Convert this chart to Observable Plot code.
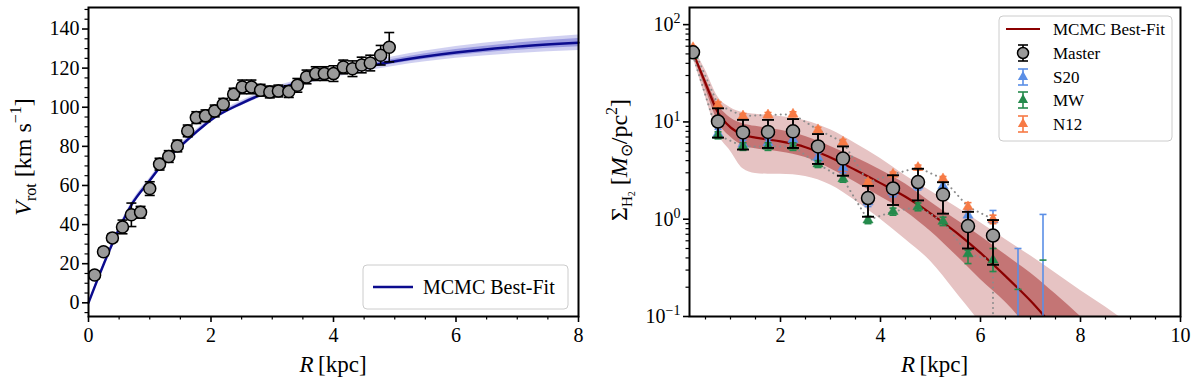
<!DOCTYPE html>
<html><head><meta charset="utf-8">
<script src="https://cdn.jsdelivr.net/npm/d3@7"></script>
<script src="https://cdn.jsdelivr.net/npm/@observablehq/plot@0.6"></script>
<style>
body{margin:0;background:#fff;}
#wrap{display:flex;width:1200px;height:388px;overflow:hidden;}
#wrap svg, #wrap svg text, #wrap svg tspan{font-family:"Liberation Serif",serif !important;}
</style></head><body><div id="wrap"></div>
<script>
// ---------- Left panel: rotation curve ----------
const rotR = [0.10,0.245,0.39,0.555,0.70,0.85,1.0,1.16,1.31,1.45,1.62,1.76,1.91,2.06,2.2,2.37,2.51,2.66,2.81,2.96,3.10,3.27,3.41,3.56,3.71,3.85,4.0,4.16,4.31,4.46,4.6,4.77,4.91];
const rotV = [14.2,26.1,33.2,38.8,45.0,46.3,58.4,70.9,74.8,80.2,87.9,94.7,95.6,98.1,101.5,106.7,110.4,110.4,108.7,107.8,108.3,108.0,111.2,115.5,117.2,117.2,117.2,120.6,119.7,121.6,122.6,126.6,130.7];
const rotErr = [2,2,2,3.5,6,3,3.5,3,3,3,3,3,3,3,3,3,3.5,3.5,3,3,3,3,3.5,3.5,3.5,3.5,4,3.5,4,4,4,5,7.5];

const fitR   = [0,0.2,0.4,0.7,1.0,1.25,1.5,1.75,2.0,2.5,3.0,3.5,4.0,4.5,5.0,6.0,7.0,8.0];
const fitV   = [0,16,31,50,62.5,72.5,80,87,93.5,102,108.5,113,117,120.5,123.5,128,131,133];
const fitLo1 = [0,15.7,30.5,49.4,61.9,71.9,79.4,86.4,92.9,101.4,107.9,112.3,116.2,119.5,122.3,126.5,129.2,130.9];
const fitHi1 = [0,16.3,31.5,50.6,63.1,73.1,80.6,87.6,94.1,102.6,109.1,113.7,117.8,121.5,124.7,129.5,132.8,135.1];
const fitLo2 = [0,15.2,29.8,48.7,61.2,71.2,78.7,85.7,92.2,100.7,107.1,111.4,115.1,118.3,121,125,127.5,129];
const fitHi2 = [0,16.8,32.2,51.3,63.8,73.8,81.3,88.3,94.8,103.3,109.9,114.6,118.9,122.7,126,131,134.5,137];

const xMajorL = [0,2,4,6,8];
const xMinorL = [0.5,1,1.5,2.5,3,3.5,4.5,5,5.5,6.5,7,7.5];
const yMajorL = [0,20,40,60,80,100,120,140];
const yMinorL = [-5,5,10,15,25,30,35,45,50,55,65,70,75,85,90,95,105,110,115,125,130,135,145,150];

// ---------- Right panel: H2 surface density ----------
const sigR      = [0.25,0.75,1.25,1.75,2.25,2.75,3.25,3.75,4.25,4.75,5.25,5.75,6.25];
const masterVal = [52,10.1,7.8,7.9,8.0,5.6,4.2,1.65,2.07,2.41,1.79,0.85,0.68];
const masterLo  = [50,6.9,5.2,5.4,5.4,3.7,2.8,1.06,1.4,1.56,1.14,0.5,0.34];
const masterHi  = [54,13.8,10.5,10.5,10.7,7.5,5.6,2.2,2.83,3.3,2.4,1.19,0.98];

const s20R   = [0.25,0.75,1.25,1.75,2.25,2.75,3.25,3.75,4.25,4.75,5.25,5.75,6.25,6.75,7.25];
const s20Val = [49,7.6,5.9,6.1,6.6,4.3,3.4,1.5,1.9,2.2,2.2,1.1,0.98,0.05,0.05];
const s20Lo  = [47,6.9,5.3,5.5,5.9,3.9,3.0,1.35,1.7,2.0,1.95,0.95,0.75,0.01,0.01];
const s20Hi  = [51,8.4,6.5,6.7,7.3,4.8,3.8,1.65,2.1,2.45,2.45,1.25,1.23,0.5,1.12];

const mwR   = [0.25,0.75,1.25,1.75,2.25,2.75,3.25,3.75,4.25,4.75,5.25,5.75,6.25,6.75,7.25];
const mwVal = [48,7.3,5.6,5.6,5.6,3.7,2.6,0.98,1.2,1.34,0.95,0.44,0.38,0,0];
const mwLo  = [46,6.7,5.1,5.1,5.1,3.4,2.4,0.9,1.1,1.22,0.86,0.35,0.29,0,0];
const mwHi  = [50,7.9,6.1,6.1,6.1,4.0,2.8,1.07,1.3,1.47,1.05,0.48,0.5,0.19,0.38];

const n12R   = [0.25,0.75,1.25,1.75,2.25,2.75,3.25,3.75,4.25,4.75,5.25,5.75,6.25];
const n12Val = [58,15,11.5,11.8,12,8.3,6.2,2.4,2.9,3.4,2.6,1.34,1.0];
const n12Lo  = [56,14,10.8,11.1,11.3,7.8,5.8,2.25,2.75,3.2,2.45,1.2,0.9];
const n12Hi  = [60,16,12.2,12.5,12.7,8.8,6.6,2.55,3.05,3.6,2.75,1.48,1.1];

const envLowR = [0.25,0.75,1.25,1.75,2.25,2.75,3.25,3.75,4.25,4.75,5.25,5.75,6.25,6.25];
const envLowV = [48,7.3,5.6,5.6,5.6,3.7,2.6,0.98,1.2,1.34,0.95,0.44,0.38,0.05];

const modR    = [0.25,0.5,0.75,1.0,1.25,1.5,1.75,2.0,2.5,3.0,3.5,4.0,4.5,5.0,5.5,6.0,6.5,7.0,7.5,8.0,8.5,9.0];
const modBest = [52,25,12.5,8.8,7.4,6.9,6.6,6.3,5.5,4.3,3.2,2.35,1.7,1.15,0.74,0.45,0.26,0.145,0.075,0.04,0.021,0.011];
const modLo1  = [49,22,10,7.0,5.7,5.3,5.1,4.9,4.3,3.3,2.4,1.7,1.2,0.75,0.43,0.24,0.14,0.072,0.035,0.017,0.008,0.004];
const modHi1  = [55,28,15,11,9.6,9.0,8.6,8.2,7.1,5.6,4.3,3.2,2.3,1.5,1.0,0.67,0.43,0.28,0.17,0.1,0.058,0.034];
const modLo2  = [46,18,7.5,5.0,3.3,2.95,2.9,2.9,2.75,2.25,1.55,1.0,0.62,0.37,0.18,0.085,0.035,0.015,0.006,0.003,0.0015,0.0008];
const modHi2  = [59,34,18,14,12.5,12,11.7,11.4,10.3,8.3,6.0,4.2,2.8,1.95,1.35,0.92,0.62,0.42,0.28,0.185,0.125,0.082];

const xMajorR = [2,4,6,8,10];
const xMinorR = [0.5,1,1.5,2.5,3,3.5,4.5,5,5.5,6.5,7,7.5,8.5,9,9.5];
const yMajorR = [0.1,1,10,100];
const yMajorRLabels = ["10|−1","10|0","10|1","10|2"];
const yMinorR = [0.2,0.3,0.4,0.5,0.6,0.7,0.8,0.9,2,3,4,5,6,7,8,9,20,30,40,50,60,70,80,90];

// ---------- helpers ----------
const FONT = "Liberation Serif";
const cap = (hw) => ({draw(ctx){ ctx.moveTo(-hw,0); ctx.lineTo(hw,0); }});
const zipErr = (R, V, L, H) => R.map((r,i)=>({r, v:V[i], lo:L[i], hi:H[i]}));
const wrap = document.getElementById("wrap");

// ---------- Left plot ----------
const rot = rotR.map((r,i)=>({r, v:rotV[i], e:rotErr[i]}));
const fit = fitR.map((r,i)=>({r, v:fitV[i], lo1:fitLo1[i], hi1:fitHi1[i], lo2:fitLo2[i], hi2:fitHi2[i]}));

const left = Plot.plot({
  width: 600, height: 388,
  marginLeft: 88, marginRight: 22, marginTop: 7, marginBottom: 72,
  style: {fontFamily: FONT, fontSize: "20px", background: "white", color: "black"},
  x: {domain: [0, 8]},
  y: {domain: [-7, 151]},
  marks: [
    Plot.areaY(fit, {x:"r", y1:"lo2", y2:"hi2", fill:"#a9a9e6", fillOpacity:0.55, curve:"monotone-x"}),
    Plot.areaY(fit, {x:"r", y1:"lo1", y2:"hi1", fill:"#6d6dd2", fillOpacity:0.55, curve:"monotone-x"}),
    Plot.line(fit, {x:"r", y:"v", stroke:"#0b0b8e", strokeWidth:2.4, curve:"monotone-x"}),
    Plot.ruleX(rot, {x:"r", y1:d=>d.v-d.e, y2:d=>d.v+d.e, stroke:"black", strokeWidth:1.6}),
    Plot.dot(rot, {x:"r", y:d=>d.v-d.e, symbol:cap(5), stroke:"black", strokeWidth:1.6}),
    Plot.dot(rot, {x:"r", y:d=>d.v+d.e, symbol:cap(5), stroke:"black", strokeWidth:1.6}),
    Plot.dot(rot, {x:"r", y:"v", r:6, fill:"#9a9a9a", stroke:"black", strokeWidth:1.5}),
    Plot.axisX({ticks:xMajorL, tickSize:6, tickPadding:5, fontSize:20, strokeWidth:1.6, label:null}),
    Plot.axisX({ticks:xMinorL, tickSize:3.5, tickFormat:()=>"", strokeWidth:1.2, label:null}),
    Plot.axisY({ticks:yMajorL, tickSize:6, tickPadding:3, fontSize:20, strokeWidth:1.6, label:null}),
    Plot.axisY({ticks:yMinorL, tickSize:3.5, tickFormat:()=>"", strokeWidth:1.2, label:null}),
    Plot.frame({stroke:"black", strokeWidth:2})
  ]
});
wrap.appendChild(left);

// ---------- Right plot ----------
const master = zipErr(sigR, masterVal, masterLo, masterHi);
const s20 = zipErr(s20R, s20Val, s20Lo, s20Hi);
const mw = zipErr(mwR, mwVal, mwLo, mwHi);
const n12 = zipErr(n12R, n12Val, n12Lo, n12Hi);
const mod = modR.map((r,i)=>({r, v:modBest[i], lo1:modLo1[i], hi1:modHi1[i], lo2:modLo2[i], hi2:modHi2[i]}));
const envUp = n12R.map((r,i)=>({r, v:n12Val[i]}));
const envLow = envLowR.map((r,i)=>({r, v:envLowV[i]}));

const C_S20 = "#5b8fe6", C_MW = "#258a4c", C_N12 = "#f77a45", C_FIT = "#8b0000";
const pos = d => d > 0;

function errMarks(data, color, hw, symbol, r, sw) {
  const bars = data.filter(d => pos(d.lo) && pos(d.hi));
  const los = data.filter(d => pos(d.lo));
  const his = data.filter(d => pos(d.hi));
  const pts = data.filter(d => pos(d.v));
  return [
    Plot.ruleX(bars, {x:"r", y1:"lo", y2:"hi", stroke:color, strokeWidth:sw, clip:true}),
    Plot.dot(los, {x:"r", y:"lo", symbol:cap(hw), stroke:color, strokeWidth:sw, clip:true}),
    Plot.dot(his, {x:"r", y:"hi", symbol:cap(hw), stroke:color, strokeWidth:sw, clip:true}),
    symbol === "circle"
      ? Plot.dot(pts, {x:"r", y:"v", r, fill:"#9a9a9a", stroke:"black", strokeWidth:1.5, clip:true})
      : Plot.dot(pts, {x:"r", y:"v", r, symbol:"triangle", fill:color, stroke:color, strokeWidth:0.5, clip:true})
  ];
}

const right = Plot.plot({
  width: 600, height: 388,
  marginLeft: 89, marginRight: 20, marginTop: 7, marginBottom: 72,
  style: {fontFamily: FONT, fontSize: "20px", background: "white", color: "black"},
  x: {domain: [0.18, 10]},
  y: {type: "log", domain: [0.1, 150]},
  marks: [
    Plot.areaY(mod, {x:"r", y1:"lo2", y2:"hi2", fill:"#e6c3c3", curve:"monotone-x", clip:true}),
    Plot.areaY(mod, {x:"r", y1:"lo1", y2:"hi1", fill:"#c47575", curve:"monotone-x", clip:true}),
    Plot.line(mod, {x:"r", y:"v", stroke:C_FIT, strokeWidth:2.2, curve:"monotone-x", clip:true}),
    Plot.line(envUp, {x:"r", y:"v", stroke:"#8c8c8c", strokeWidth:2, strokeDasharray:"0.1,5", strokeLinecap:"round", clip:true}),
    Plot.line(envLow, {x:"r", y:"v", stroke:"#8c8c8c", strokeWidth:2, strokeDasharray:"0.1,5", strokeLinecap:"round", clip:true}),
    ...errMarks(s20, C_S20, 3.5, "triangle", 3.8, 1.6),
    ...errMarks(mw, C_MW, 3.5, "triangle", 3.8, 1.6),
    ...errMarks(n12, C_N12, 3.5, "triangle", 3.8, 1.6),
    ...errMarks(master, "black", 6, "circle", 6.5, 1.9),
    Plot.axisX({ticks:xMajorR, tickSize:6, tickPadding:5, fontSize:20, strokeWidth:1.6, label:null}),
    Plot.axisX({ticks:xMinorR, tickSize:3.5, tickFormat:()=>"", strokeWidth:1.2, label:null}),
    Plot.axisY({ticks:yMajorR, tickSize:6, tickPadding:3, fontSize:20, strokeWidth:1.6, label:null,
      tickFormat: d => yMajorRLabels[yMajorR.indexOf(d)]}),
    Plot.axisY({ticks:yMinorR, tickSize:3.5, tickFormat:()=>"", strokeWidth:1.2, label:null}),
    Plot.frame({stroke:"black", strokeWidth:2})
  ]
});
wrap.appendChild(right);

// superscripts on log tick labels
d3.select(right).selectAll('g[aria-label="y-axis tick label"] text').each(function(){
  const t = this.textContent;
  if (!t.includes("|")) return;
  const [b, e] = t.split("|");
  const sel = d3.select(this);
  sel.text("");
  sel.append("tspan").text(b);
  sel.append("tspan").attr("font-size", 14).attr("dy", "-0.55em").text(e);
});

// ---------- axis labels ----------
function xLabel(svg, cx) {
  const t = d3.select(svg).append("text").attr("x", cx).attr("y", 372)
    .attr("text-anchor","middle").attr("font-size",23).attr("fill","black");
  t.append("tspan").attr("font-style","italic").text("R");
  t.append("tspan").text("\u2009[kpc]");
}
xLabel(left, 333);
xLabel(right, 334.5);

{
  const t = d3.select(left).append("text").attr("transform","translate(31,157) rotate(-90)")
    .attr("text-anchor","middle").attr("font-size",24).attr("fill","black");
  t.append("tspan").attr("font-style","italic").text("V");
  t.append("tspan").attr("font-size",16).attr("dy",5).text("rot");
  t.append("tspan").attr("dy",-5).text(" [km s");
  t.append("tspan").attr("font-size",16).attr("dy",-10).text("−1");
  t.append("tspan").attr("dy",10).text("]");
}
{
  const t = d3.select(right).append("text").attr("transform","translate(27,160) rotate(-90)")
    .attr("text-anchor","middle").attr("font-size",24).attr("fill","black");
  t.append("tspan").text("Σ");
  t.append("tspan").attr("font-size",15).attr("dy",5).text("H");
  t.append("tspan").attr("font-size",10).attr("dy",3).text("2");
  t.append("tspan").attr("dy",-8).text(" [");
  t.append("tspan").attr("font-style","italic").text("M");
  t.append("tspan").attr("font-size",16).attr("dy",5).text("⊙");
  t.append("tspan").attr("dy",-5).text("/pc");
  t.append("tspan").attr("font-size",16).attr("dy",-10).text("2");
  t.append("tspan").attr("dy",10).text("]");
}

// ---------- legends ----------
{
  const g = d3.select(left).append("g").attr("text-anchor","start");
  g.append("rect").attr("x",363).attr("y",265).attr("width",205).attr("height",44).attr("rx",4)
    .attr("fill","white").attr("fill-opacity",0.8).attr("stroke","#cccccc");
  g.append("line").attr("x1",373).attr("x2",413).attr("y1",287).attr("y2",287).attr("stroke","#0b0b8e").attr("stroke-width",2.4);
  g.append("text").attr("x",423).attr("y",294).attr("font-size",20).attr("fill","black").attr("text-anchor","start").text("MCMC Best-Fit");
}
{
  const g = d3.select(right).append("g").attr("text-anchor","start");
  g.append("rect").attr("x",399).attr("y",16).attr("width",173).attr("height",125).attr("rx",4)
    .attr("fill","white").attr("fill-opacity",0.8).attr("stroke","#cccccc");
  const lx = 423, tx = 453;
  const rows = [
    {y:29, label:"MCMC Best-Fit", kind:"line", color:C_FIT},
    {y:53, label:"Master", kind:"circle", color:"black"},
    {y:77, label:"S20", kind:"tri", color:C_S20},
    {y:100, label:"MW", kind:"tri", color:C_MW},
    {y:124, label:"N12", kind:"tri", color:C_N12}
  ];
  rows.forEach(rw => {
    if (rw.kind === "line") {
      g.append("line").attr("x1",lx-17).attr("x2",lx+17).attr("y1",rw.y).attr("y2",rw.y).attr("stroke",rw.color).attr("stroke-width",2.2);
    } else {
      g.append("line").attr("x1",lx).attr("x2",lx).attr("y1",rw.y-8).attr("y2",rw.y+8).attr("stroke",rw.color).attr("stroke-width",1.6);
      g.append("line").attr("x1",lx-5).attr("x2",lx+5).attr("y1",rw.y-8).attr("y2",rw.y-8).attr("stroke",rw.color).attr("stroke-width",1.6);
      g.append("line").attr("x1",lx-5).attr("x2",lx+5).attr("y1",rw.y+8).attr("y2",rw.y+8).attr("stroke",rw.color).attr("stroke-width",1.6);
      if (rw.kind === "circle") {
        g.append("circle").attr("cx",lx).attr("cy",rw.y).attr("r",5.5).attr("fill","#9a9a9a").attr("stroke","black").attr("stroke-width",1.5);
      } else {
        g.append("path").attr("transform",`translate(${lx},${rw.y})`).attr("d", d3.symbol(d3.symbolTriangle, 45)()).attr("fill",rw.color);
      }
    }
    g.append("text").attr("x",tx).attr("y",rw.y+6).attr("font-size",17).attr("fill","black").attr("text-anchor","start").text(rw.label);
  });
}
</script></body></html>
